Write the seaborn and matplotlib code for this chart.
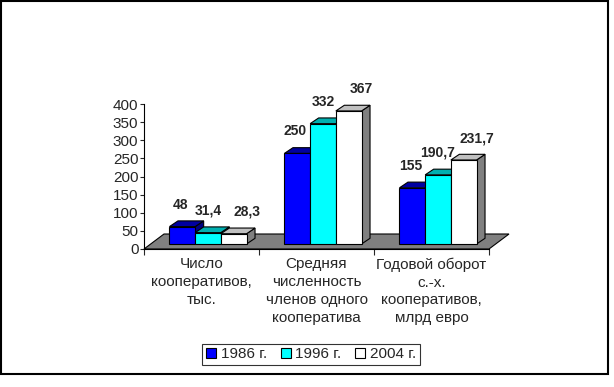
import numpy as np
import pandas as pd
import matplotlib
matplotlib.use("Agg")
import matplotlib.pyplot as plt
import matplotlib.transforms as mtransforms
from matplotlib.patches import Polygon, Rectangle, Patch
import seaborn as sns

## data
categories = ["Число\nкооперативов,\nтыс.",
              "Средняя\nчисленность\nчленов одного\nкооператива",
              "Годовой оборот\nс.-х.\nкооперативов,\nмлрд евро"]
years = ["1986 г.", "1996 г.", "2004 г."]
v1986 = [48, 250, 155]
v1996 = [31.4, 332, 190.7]
v2004 = [28.3, 367, 231.7]
lab1986 = ["48", "250", "155"]
lab1996 = ["31,4", "332", "190,7"]
lab2004 = ["28,3", "367", "231,7"]
yticks = [0, 50, 100, 150, 200, 250, 300, 350, 400]

front_cols = ["#0000FF", "#00FFFF", "#FFFFFF"]
top_cols = ["#0000A0", "#00B0B0", "#C0C0C0"]
side_cols = ["#000080", "#008080", "#808080"]

sns.set_style("white")
plt.rcParams['font.family'] = ['Liberation Sans', 'DejaVu Sans']

df = pd.DataFrame({
    "cat": categories * 3,
    "year": [years[0]] * 3 + [years[1]] * 3 + [years[2]] * 3,
    "value": v1986 + v1996 + v2004,
})
labels = [lab1986, lab1996, lab2004]

W, H = 614, 387
fig = plt.figure(figsize=(W / 100, H / 100), dpi=100)
ax = fig.add_axes([144 / W, (H - 249) / H, 345 / W, 145 / H])

sns.barplot(data=df, x="cat", y="value", hue="year", palette=front_cols,
            width=0.67, saturation=1, edgecolor="black", linewidth=0.8,
            legend=False, ax=ax)

ax.set_xlim(-0.5, 2.5)
ax.set_ylim(0, 400)
ax.set_xlabel("")
ax.set_ylabel("")

## pseudo 3d: bars sit a bit back on the floor
px_x = 345 / 3.0      # pixels per category unit
px_y = 145 / 400.0    # pixels per value unit
shift = mtransforms.Affine2D().translate(6.5, 5)
tr = ax.transData + shift
ddx, ddy = 8.5 / px_x, 5.7 / px_y

# floor
fdx, fdy = 20 / px_x, 15 / px_y
floor = Polygon([(-0.5, 0), (2.5, 0), (2.5 + fdx, fdy), (-0.5 + fdx, fdy)],
                closed=True, facecolor="#808080", edgecolor="black", lw=0.8,
                zorder=1, clip_on=False)
ax.add_patch(floor)

lab_dx = [-2, 0, 13]
for hi, cont in enumerate(ax.containers):
    for ci, p in enumerate(cont.patches):
        z = 3 + hi * 0.1
        p.set_transform(tr)
        p.set_zorder(z)
        p.set_clip_on(False)
        x0, w, h = p.get_x(), p.get_width(), p.get_height()
        side = Polygon([(x0 + w, 0), (x0 + w + ddx, ddy), (x0 + w + ddx, h + ddy), (x0 + w, h)],
                       closed=True, facecolor=side_cols[hi], edgecolor="black", lw=0.8,
                       transform=tr, zorder=z - 0.02, clip_on=False)
        top = Polygon([(x0, h), (x0 + w, h), (x0 + w + ddx, h + ddy), (x0 + ddx, h + ddy)],
                      closed=True, facecolor=top_cols[hi], edgecolor="black", lw=0.8,
                      transform=tr, zorder=z - 0.01, clip_on=False)
        ax.add_patch(side)
        ax.add_patch(top)
        ax.annotate(labels[hi][ci], (x0 + w / 2, h), xytext=((6.5 + lab_dx[hi]) * 0.72, 27 * 0.72),
                    textcoords="offset points", ha="center", va="center",
                    fontsize=10, fontweight="bold", zorder=10)

## axes look
for s in ["top", "right"]:
    ax.spines[s].set_visible(False)
for s in ["left", "bottom"]:
    ax.spines[s].set_color("black")
    ax.spines[s].set_linewidth(0.8)
    ax.spines[s].set_zorder(2)
ax.set_yticks(yticks)
ax.tick_params(axis="y", direction="out", length=3, width=0.8, pad=1, labelsize=11, left=True)
ax.set_xticks([0, 1, 2])
ax.set_xticklabels(categories)
ax.set_xticks([-0.5, 0.5, 1.5, 2.5], minor=True)
ax.tick_params(axis="x", which="major", length=0, pad=6, labelsize=11)
ax.tick_params(axis="x", which="minor", direction="out", length=4, width=0.8, bottom=True)
for t in ax.get_xticklabels():
    t.set_linespacing(1.35)
    t.set_va("top")

## legend
handles = [Patch(facecolor=c, edgecolor="black", lw=0.8) for c in front_cols]
leg = fig.legend(handles, years, loc="center", bbox_to_anchor=(311 / W, 1 - 354.5 / H),
                 ncol=3, frameon=True, fancybox=False, fontsize=11, handlelength=0.65,
                 handleheight=0.65, handletextpad=0.3, columnspacing=0.9, borderpad=0.25,
                 borderaxespad=0)
leg.get_frame().set_edgecolor("black")
leg.get_frame().set_linewidth(0.8)

## outer border of the chart area
fig.patches.append(Rectangle((1 / W, 1 - 374 / H), 607 / W, 373 / H, transform=fig.transFigure,
                             fill=False, edgecolor="black", lw=1.5))

fig.savefig("out.png", dpi=100)
